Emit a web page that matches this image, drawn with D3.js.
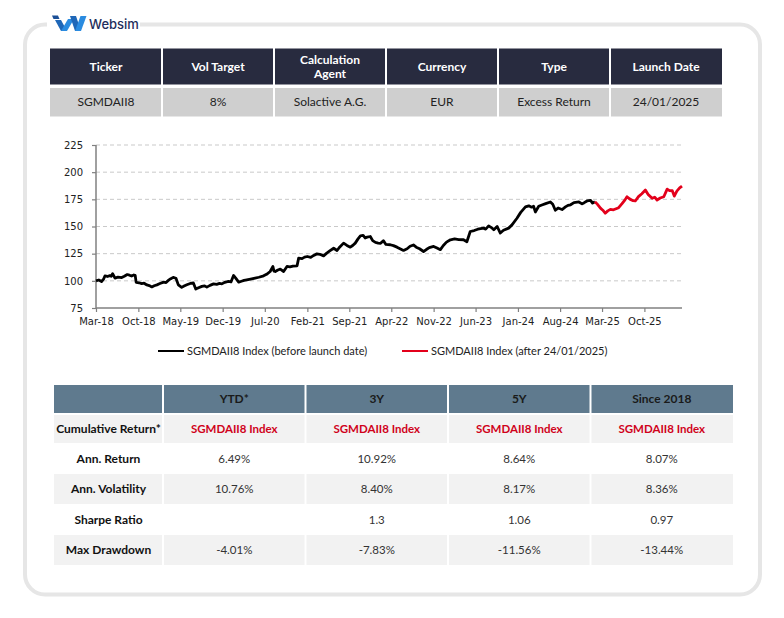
<!DOCTYPE html>
<html>
<head>
<meta charset="utf-8">
<script src="https://cdn.jsdelivr.net/npm/d3@7"></script>
<style>
  html, body { margin: 0; padding: 0; background: #ffffff; }
  svg { display: block; }
</style>
</head>
<body>
<svg id="chart" width="784" height="618"></svg>
<script>
// ---------------- DATA ----------------
const infoHeaders = ["Ticker", "Vol Target", "Calculation\nAgent", "Currency", "Type", "Launch Date"];
const infoValues = ["SGMDAII8", "8%", "Solactive A.G.", "EUR", "Excess Return", "24/01/2025"];

const beforeDates = ["2018-03-01","2018-03-15","2018-03-29","2018-04-08","2018-04-15","2018-04-28","2018-05-10","2018-05-17","2018-05-24","2018-06-05","2018-06-20","2018-07-09","2018-07-22","2018-08-06","2018-08-17","2018-08-28","2018-09-08","2018-09-15","2018-09-20","2018-10-05","2018-10-18","2018-10-30","2018-11-13","2018-11-25","2018-12-08","2018-12-20","2019-01-03","2019-01-18","2019-02-06","2019-02-18","2019-03-01","2019-03-14","2019-03-26","2019-04-09","2019-04-21","2019-05-08","2019-05-20","2019-06-03","2019-06-20","2019-07-06","2019-07-18","2019-08-01","2019-08-18","2019-09-01","2019-09-12","2019-09-28","2019-10-16","2019-11-01","2019-11-15","2019-11-27","2019-12-12","2019-12-30","2020-01-12","2020-01-25","2020-02-05","2020-02-20","2020-03-05","2020-03-18","2020-04-01","2020-04-20","2020-05-13","2020-06-01","2020-06-25","2020-07-10","2020-07-28","2020-08-11","2020-08-16","2020-08-23","2020-09-05","2020-09-17","2020-10-04","2020-10-21","2020-11-05","2020-11-20","2020-12-11","2020-12-19","2021-01-05","2021-01-18","2021-02-01","2021-02-18","2021-03-05","2021-03-21","2021-04-05","2021-04-24","2021-05-10","2021-05-25","2021-06-14","2021-07-01","2021-07-15","2021-08-03","2021-08-20","2021-09-06","2021-09-18","2021-10-01","2021-10-15","2021-10-27","2021-11-10","2021-11-20","2021-11-30","2021-12-16","2021-12-28","2022-01-11","2022-01-25","2022-02-06","2022-02-20","2022-03-05","2022-03-27","2022-04-12","2022-04-30","2022-05-15","2022-06-02","2022-06-20","2022-07-05","2022-07-22","2022-08-05","2022-08-22","2022-09-11","2022-09-25","2022-10-10","2022-11-01","2022-11-18","2022-12-05","2022-12-20","2023-01-05","2023-01-25","2023-02-15","2023-03-08","2023-04-01","2023-04-18","2023-05-05","2023-05-25","2023-06-12","2023-07-11","2023-07-22","2023-08-06","2023-08-20","2023-09-01","2023-09-18","2023-10-04","2023-10-20","2023-11-15","2023-12-02","2023-12-27","2024-01-15","2024-02-08","2024-02-25","2024-03-10","2024-03-20","2024-03-29","2024-04-15","2024-05-01","2024-05-20","2024-06-13","2024-06-25","2024-07-08","2024-07-22","2024-08-11","2024-08-28","2024-09-10","2024-09-23","2024-10-10","2024-11-04","2024-11-20","2024-11-29","2024-12-15","2025-01-02","2025-01-12","2025-01-24"];
const beforeValues = [100,100.8,99.4,101.5,104.5,104,104.8,104.2,106.6,102.5,103.4,103,104.2,105.8,105.2,104.4,105.4,105,98.6,98.2,97.4,97.8,96.2,95.6,94.4,95.5,96.3,97.5,98.8,98.4,100.4,102,103.2,102.4,96.3,94,95.2,96.4,97.6,98,92.4,93.6,94.9,95.4,94.2,95.8,97.2,96.8,97.6,97.2,98.6,99.4,99,104.9,102.5,98.8,99.6,100.4,100.9,101.6,102.5,103.3,104.6,106,108.6,113.2,109,108.6,110,110.7,108.6,113.2,112.8,113.6,113.8,120.9,120.4,121.8,122.4,121.6,123.4,124.8,124.4,123,125.5,127.5,130,127.9,131.2,134.7,132.6,131,132.5,134.7,138.6,141.4,141.8,139.4,140.2,140.8,137,135.4,134.8,134.5,137,133.5,133.2,132.4,131,129.6,128,129.5,131.8,133,131,129.5,127,128.8,130.6,131.7,130.2,128.7,132.5,135.6,137.8,138.6,138,137.8,136,145.4,146.3,147.5,148.5,147.6,150.6,149,147,150,144,146.5,148.5,151.5,157.6,163,168,169,167.8,168.6,163.4,168.6,169.8,171,172.6,170.5,165,167,165.6,168,169.5,170,172,172.6,170.8,171.7,173.5,174,171.5,172.8];

const afterDates = ["2025-01-24","2025-02-05","2025-02-22","2025-03-05","2025-03-17","2025-03-30","2025-04-12","2025-04-28","2025-05-24","2025-06-10","2025-06-25","2025-07-05","2025-07-20","2025-08-05","2025-08-16","2025-09-01","2025-09-18","2025-10-06","2025-10-20","2025-11-09","2025-11-22","2025-12-04","2025-12-20","2026-01-07","2026-01-24","2026-02-05","2026-02-19","2026-03-01","2026-03-14","2026-03-28","2026-04-09"];
const afterValues = [172.8,170.6,166.7,165,162.2,164.4,165.8,165.4,167.3,171,174.5,177.4,175.2,173.8,173.5,177.5,180.2,183.5,179.5,175.9,177,174.4,176.2,177.4,184.4,183,182.9,178,182.6,185.5,187.2];

const yTicks = [75, 100, 125, 150, 175, 200, 225];
const xTickMonths = ["2018-03","2018-10","2019-05","2019-12","2020-07","2021-02","2021-09","2022-04","2022-11","2023-06","2024-01","2024-08","2025-03","2025-10"];
const xDomain = ["2018-03-01", "2026-04-09"];
const legendLabels = ["SGMDAII8 Index (before launch date)", "SGMDAII8 Index (after 24/01/2025)"];

const perfHeaders = ["", "YTD*", "3Y", "5Y", "Since 2018"];
const perfRowLabels = ["Cumulative Return*", "Ann. Return", "Ann. Volatility", "Sharpe Ratio", "Max Drawdown"];
const perfCumulative = ["SGMDAII8 Index", "SGMDAII8 Index", "SGMDAII8 Index", "SGMDAII8 Index"];
const perfAnnReturn = ["6.49%", "10.92%", "8.64%", "8.07%"];
const perfAnnVol = ["10.76%", "8.40%", "8.17%", "8.36%"];
const perfSharpe = ["", "1.3", "1.06", "0.97"];
const perfMaxDD = ["-4.01%", "-7.83%", "-11.56%", "-13.44%"];

// ---------------- DRAW ----------------
const svg = d3.select("#chart");
const parse = d3.timeParse("%Y-%m-%d");
const parseM = d3.timeParse("%Y-%m");
const FONT = "Lato, 'Noto Sans', sans-serif";

// card
svg.append("rect").attr("x", 25).attr("y", 24.5).attr("width", 735).attr("height", 570)
  .attr("rx", 20).attr("fill", "#fff").attr("stroke", "#e6e6e6").attr("stroke-width", 4);
// logo background gap
svg.append("rect").attr("x", 47).attr("y", 10).attr("width", 93).attr("height", 26).attr("fill", "#fff");
// logo icon
const logo = svg.append("g");
logo.append("polygon").attr("points", "52,15.5 58,15.5 59.5,19 53.5,19").attr("fill", "#1b4f96");
logo.append("polygon").attr("points", "55,20 61,20 67,31 61,31").attr("fill", "#1f67b8");
logo.append("polygon").attr("points", "61,31 67,31 74,19 68,19").attr("fill", "#2a8be0");
logo.append("polygon").attr("points", "70,16 76,16 81,31 75,31").attr("fill", "#1f67b8");
logo.append("polygon").attr("points", "75,31 81,31 86.5,16 80.5,16").attr("fill", "#2a8be0");
svg.append("text").attr("x", 89).attr("y", 29).attr("font-family", "Inter, 'Open Sans', sans-serif")
  .attr("font-size", 13).attr("font-weight", 500).attr("fill", "#1e2d5b").text("Websim");

// ---- info table ----
const infoX = d3.scaleBand().domain(d3.range(infoHeaders.length)).range([50, 722]);
const infoG = svg.append("g");
infoG.selectAll("rect.h").data(infoHeaders).join("rect")
  .attr("x", (d, i) => infoX(i) + (i ? 1 : 0)).attr("y", 48.5)
  .attr("width", (d, i) => infoX.bandwidth() - (i ? 1 : 0) - (i < infoHeaders.length - 1 ? 1 : 0)).attr("height", 36)
  .attr("fill", "#282b3f");
infoG.selectAll("rect.v").data(infoValues).join("rect")
  .attr("x", (d, i) => infoX(i) + (i ? 1 : 0)).attr("y", 88)
  .attr("width", (d, i) => infoX.bandwidth() - (i ? 1 : 0) - (i < infoValues.length - 1 ? 1 : 0)).attr("height", 28.5)
  .attr("fill", "#cfcfcf");
infoHeaders.forEach((h, i) => {
  const lines = h.split("\n");
  const t = infoG.append("text").attr("text-anchor", "middle").attr("font-family", FONT)
    .attr("font-size", 12).attr("font-weight", 700).attr("fill", "#fff");
  lines.forEach((ln, k) => {
    t.append("tspan").attr("x", infoX(i) + infoX.bandwidth() / 2)
      .attr("y", 67 + (k - (lines.length - 1) / 2) * 14.5).attr("dy", "0.35em").text(ln);
  });
});
infoG.selectAll("text.v").data(infoValues).join("text")
  .attr("x", (d, i) => infoX(i) + infoX.bandwidth() / 2).attr("y", 102).attr("dy", "0.35em")
  .attr("text-anchor", "middle").attr("font-family", FONT).attr("font-size", 12).attr("fill", "#222").text(d => d);

// ---- line chart ----
const x = d3.scaleTime().domain(xDomain.map(parse)).range([96, 682]);
const y = d3.scaleLinear().domain([75, 225]).range([308, 145]);

const grid = svg.append("g");
grid.selectAll("line").data(yTicks.filter(v => v > 75)).join("line")
  .attr("x1", 96).attr("x2", 682).attr("y1", d => y(d)).attr("y2", d => y(d))
  .attr("stroke", "#c9c9c9").attr("stroke-width", 1).attr("stroke-dasharray", "4,3");

const yAxis = svg.append("g").attr("transform", "translate(96,0)")
  .call(d3.axisLeft(y).tickValues(yTicks).tickSize(4).tickPadding(9).tickFormat(d3.format("d")));
const xAxis = svg.append("g").attr("transform", "translate(0,308)")
  .call(d3.axisBottom(x).tickValues(xTickMonths.map(parseM)).tickSize(4).tickPadding(6).tickFormat(d3.timeFormat("%b-%y")));
[yAxis, xAxis].forEach(a => {
  a.select(".domain").attr("stroke", "#808080").attr("stroke-width", 1.5);
  a.selectAll(".tick line").attr("stroke", "#808080").attr("stroke-width", 1.2);
  a.selectAll("text").attr("font-family", "'DejaVu Sans', Verdana, sans-serif").attr("font-size", 10).attr("fill", "#222");
});
xAxis.select(".domain").attr("d", "M96,0H682");
yAxis.select(".domain").attr("d", "M0,145V308");

const line = d3.line().x(d => x(d.date)).y(d => y(d.value));
const before = beforeDates.map((d, i) => ({ date: parse(d), value: beforeValues[i] }));
const after = afterDates.map((d, i) => ({ date: parse(d), value: afterValues[i] }));
svg.append("path").datum(before).attr("d", line).attr("fill", "none")
  .attr("stroke", "#000").attr("stroke-width", 2.8).attr("stroke-linejoin", "round");
svg.append("path").datum(after).attr("d", line).attr("fill", "none")
  .attr("stroke", "#e3001b").attr("stroke-width", 2.8).attr("stroke-linejoin", "round");

// legend
const legendColors = ["#000", "#e3001b"];
const legendX = [158, 402];
legendLabels.forEach((lab, i) => {
  svg.append("line").attr("x1", legendX[i]).attr("x2", legendX[i] + 26).attr("y1", 351).attr("y2", 351)
    .attr("stroke", legendColors[i]).attr("stroke-width", 2);
  svg.append("text").attr("x", legendX[i] + 29).attr("y", 351).attr("dy", "0.35em")
    .attr("font-family", FONT).attr("font-size", 11).attr("fill", "#222").text(lab);
});

// ---- performance table ----
const colEdges = [54, 163, 305.5, 448, 590.5, 733];
const rowTops = [415, 443, 474, 504, 535];
const rowH = [28, 31, 30, 31, 30];
const rowFill = ["#f2f2f2", "#ffffff", "#f2f2f2", "#ffffff", "#f2f2f2"];
const perfValues = [perfCumulative, perfAnnReturn, perfAnnVol, perfSharpe, perfMaxDD];
const pg = svg.append("g");
perfHeaders.forEach((h, i) => {
  pg.append("rect").attr("x", colEdges[i] + (i ? 1 : 0)).attr("y", 385)
    .attr("width", colEdges[i + 1] - colEdges[i] - (i ? 1 : 0) - (i < 4 ? 1 : 0)).attr("height", 28)
    .attr("fill", "#5f7a8e");
  pg.append("text").attr("x", (colEdges[i] + colEdges[i + 1]) / 2).attr("y", 399).attr("dy", "0.35em")
    .attr("text-anchor", "middle").attr("font-family", FONT).attr("font-size", 12).attr("font-weight", 700)
    .attr("fill", "#1a1a1a").text(h);
});
perfRowLabels.forEach((lab, r) => {
  const cells = [lab].concat(perfValues[r]);
  cells.forEach((c, i) => {
    pg.append("rect").attr("x", colEdges[i] + (i ? 1 : 0)).attr("y", rowTops[r])
      .attr("width", colEdges[i + 1] - colEdges[i] - (i ? 1 : 0) - (i < 4 ? 1 : 0)).attr("height", rowH[r])
      .attr("fill", rowFill[r]);
    const t = pg.append("text").attr("x", (colEdges[i] + colEdges[i + 1]) / 2)
      .attr("y", rowTops[r] + rowH[r] / 2).attr("dy", "0.35em").attr("text-anchor", "middle")
      .attr("font-family", FONT).attr("font-size", i === 0 ? 12 : 11.5).text(c);
    if (i === 0) t.attr("font-weight", 700).attr("fill", "#111");
    else if (r === 0) t.attr("font-weight", 700).attr("fill", "#d0021b");
    else t.attr("fill", "#333");
  });
});
</script>
</body>
</html>
